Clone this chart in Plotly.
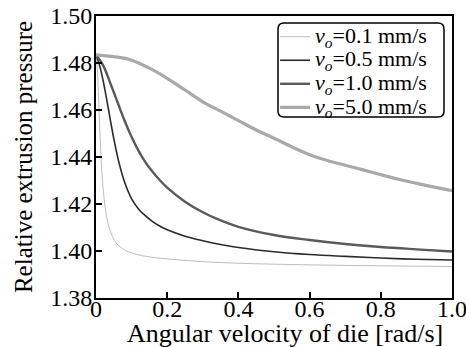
import plotly.graph_objects as go

# ---- data ----
x_01 = [0, 0.004, 0.008, 0.012, 0.016, 0.02, 0.025, 0.03, 0.035, 0.04, 0.05, 0.06, 0.08,
        0.1, 0.13, 0.17, 0.25, 0.32, 0.42, 0.6, 0.8, 1.0]
y_01 = [1.4835, 1.477, 1.462, 1.447, 1.435, 1.4265, 1.4195, 1.4145, 1.411, 1.4085, 1.405, 1.4028, 1.4005,
        1.3992, 1.3980, 1.3971, 1.3960, 1.3953, 1.3947, 1.3941, 1.3937, 1.3934]

x_05 = [0, 0.01, 0.02, 0.03, 0.04, 0.05, 0.06, 0.07, 0.08, 0.09, 0.1, 0.12, 0.14, 0.16, 0.18, 0.2,
        0.25, 0.3, 0.35, 0.4, 0.5, 0.6, 0.7, 0.8, 0.9, 1.0]
y_05 = [1.4835, 1.479, 1.4725, 1.4645, 1.456, 1.4478, 1.4405, 1.4345, 1.4295, 1.4255, 1.4222, 1.4178,
        1.4148, 1.4124, 1.4105, 1.4090, 1.4063, 1.4044, 1.4028, 1.4015, 1.3997, 1.3985, 1.3977, 1.3970,
        1.3965, 1.3962]

x_10 = [0, 0.02, 0.04, 0.06, 0.08, 0.1, 0.12, 0.14, 0.16, 0.18, 0.2, 0.25, 0.3, 0.35, 0.4, 0.5, 0.6,
        0.7, 0.8, 0.9, 1.0]
y_10 = [1.4835, 1.479, 1.4715, 1.4635, 1.4555, 1.4485, 1.4425, 1.4375, 1.4335, 1.4300, 1.4270, 1.4210,
        1.4165, 1.4130, 1.4103, 1.4068, 1.4047, 1.4030, 1.4017, 1.4007, 1.3998]

x_50 = [0, 0.05, 0.1, 0.15, 0.2, 0.25, 0.3, 0.35, 0.4, 0.45, 0.5, 0.55, 0.6, 0.65, 0.7, 0.75, 0.8, 0.85,
        0.9, 0.95, 1.0]
y_50 = [1.4835, 1.4827, 1.4812, 1.4778, 1.4735, 1.4685, 1.4635, 1.4595, 1.4555, 1.4515, 1.4480, 1.4443,
        1.4410, 1.4385, 1.4365, 1.4345, 1.4325, 1.4305, 1.4288, 1.4272, 1.4257]

speeds = ["0.1", "0.5", "1.0", "5.0"]
series_names = [f'<span style="font-size:22px"><i>v</i><sub><i>o</i></sub>={s} mm/s</span>' for s in speeds]
x_tickvals = [0, 0.2, 0.4, 0.6, 0.8, 1.0]
x_ticktext = ["0", "0.2", "0.4", "0.6", "0.8", "1.0"]
y_tickvals = [1.38, 1.40, 1.42, 1.44, 1.46, 1.48, 1.50]
y_ticktext = ["1.38", "1.40", "1.42", "1.44", "1.46", "1.48", "1.50"]

FONT = "Liberation Serif"

fig = go.Figure()
styles = [("#bdbdbd", 1.0), ("#2b2b2b", 1.6), ("#5a5a5a", 2.4), ("#a9a9a9", 3.2)]
for (xs, ys), name, (c, w) in zip([(x_01, y_01), (x_05, y_05), (x_10, y_10), (x_50, y_50)],
                                  series_names, styles):
    fig.add_trace(go.Scatter(x=xs, y=ys, mode="lines", name=name,
                             line=dict(color=c, width=w, shape="spline", smoothing=1.0)))

axis_common = dict(showgrid=False, zeroline=False, showline=True, linecolor="black", linewidth=2,
                   mirror=True, ticks="inside", ticklen=6, tickwidth=1.5, tickcolor="black",
                   automargin=False, ticklabeloverflow="allow",
                   tickfont=dict(family=FONT, size=24, color="black"))

fig.update_layout(
    width=466, height=347,
    margin=dict(l=96, r=14, t=16, b=49),
    paper_bgcolor="white", plot_bgcolor="white",
    font=dict(family=FONT, color="black"),
    xaxis=dict(range=[0, 1.0], tickvals=x_tickvals, ticktext=x_ticktext, ticklabelstandoff=-12,
               **axis_common),
    yaxis=dict(range=[1.38, 1.50], tickvals=y_tickvals, ticktext=y_ticktext, ticklabelstandoff=-3,
               title=dict(text="Relative extrusion pressure", font=dict(family=FONT, size=25), standoff=10),
               **axis_common),
    legend=dict(x=0.503, y=0.986, xanchor="left", yanchor="top",
                bgcolor="rgba(255,255,255,0)", borderwidth=0,
                font=dict(family=FONT, size=15.8, color="black"),
                tracegroupgap=0, itemwidth=30),
    showlegend=True,
)

fig.add_annotation(text="Angular velocity of die [rad/s]", xref="paper", yref="paper",
                   x=0.532, y=-0.125, xanchor="center", yanchor="middle", showarrow=False,
                   font=dict(family=FONT, size=26, color="black"))

# rounded legend frame
x0, x1, y0, y1, r = 278, 444, 23, 117, 6
def px(x):
    return (x - 96) / 356
def py(y):
    return (298 - y) / 282
rx, ry = r / 356, r / 282
path = (f"M {px(x0)+rx},{py(y0)} L {px(x1)-rx},{py(y0)} Q {px(x1)},{py(y0)} {px(x1)},{py(y0)-ry} "
        f"L {px(x1)},{py(y1)+ry} Q {px(x1)},{py(y1)} {px(x1)-rx},{py(y1)} "
        f"L {px(x0)+rx},{py(y1)} Q {px(x0)},{py(y1)} {px(x0)},{py(y1)+ry} "
        f"L {px(x0)},{py(y0)-ry} Q {px(x0)},{py(y0)} {px(x0)+rx},{py(y0)} Z")
fig.add_shape(type="path", path=path, xref="paper", yref="paper",
              line=dict(color="black", width=1.5), fillcolor="rgba(255,255,255,0.9)", layer="below")

fig.write_html("out.html")
